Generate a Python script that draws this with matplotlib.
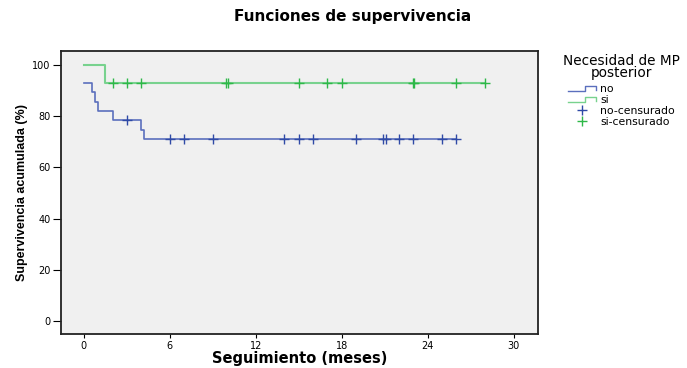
import numpy as np
import matplotlib.pyplot as plt
from matplotlib.lines import Line2D
from matplotlib.legend_handler import HandlerLine2D

plt.rcParams['font.family'] = ['DejaVu Sans']

# Kaplan-Meier step curves (months, % survival)
no_times = [0, 0.55, 0.8, 1.0, 2.05, 4.0, 4.2, 26.0]
no_surv = [92.9, 89.3, 85.7, 82.1, 78.6, 74.8, 71.1, 71.1]
no_cens_t = [3, 6, 7, 9, 14, 15, 16, 19, 20.9, 21.1, 22, 23, 25, 26]
no_cens_s = [78.6, 71.1, 71.1, 71.1, 71.1, 71.1, 71.1, 71.1, 71.1, 71.1, 71.1, 71.1, 71.1, 71.1]

si_times = [0, 1.5, 28.0]
si_surv = [100.0, 92.9, 92.9]
si_cens_t = [2, 3, 4, 9.95, 10.05, 15, 17, 18, 22.95, 23.05, 26, 28]
si_cens_s = [92.9] * len(si_cens_t)

x_ticks = [0, 6, 12, 18, 24, 30]
y_ticks = [0, 20, 40, 60, 80, 100]

blue_line = '#5b6fbd'
blue_mark = '#2f4aa6'
green_line = '#78d28e'
green_mark = '#2eb848'


class StepHandler(HandlerLine2D):
    def create_artists(self, legend, orig_handle, xdescent, ydescent,
                       width, height, fontsize, trans):
        x0 = -xdescent
        xs = [x0, x0 + width * 0.62, x0 + width * 0.62, x0 + width, x0 + width]
        yb = -ydescent + height * 0.15
        yt = -ydescent + height * 0.8
        ys = [yb, yb, yt, yt, yb + (yt - yb) * 0.3]
        line = Line2D(xs, ys, color=orig_handle.get_color(), lw=1.0)
        line.set_transform(trans)
        return [line]


fig = plt.figure(figsize=(6.87, 3.68), dpi=100)
ax = fig.add_axes([0.0888, 0.0924, 0.6943, 0.769])
ax.set_facecolor('#f0f0f0')

l_no, = ax.step(no_times, no_surv, where='post', color=blue_line, lw=1.2)
l_si, = ax.step(si_times, si_surv, where='post', color=green_line, lw=1.5)
m_no, = ax.plot(no_cens_t, no_cens_s, ls='none', marker='+', ms=7, mew=1.0, color=blue_mark)
m_si, = ax.plot(si_cens_t, si_cens_s, ls='none', marker='+', ms=7, mew=1.0, color=green_mark)

ax.set_xlim(-1.6, 31.7)
ax.set_ylim(-5.1, 105.5)
ax.set_xticks(x_ticks)
ax.set_yticks(y_ticks)
ax.tick_params(labelsize=7, width=0.8, color='black')
ax.tick_params(axis='x', length=3, pad=2)
ax.tick_params(axis='y', length=6, pad=1.5)
for s in ax.spines.values():
    s.set_linewidth(1.3)
    s.set_color('#222222')

ax.set_xlabel('Seguimiento (meses)', fontsize=10.5, fontweight='bold', labelpad=0)
ax.set_ylabel('Supervivencia acumulada (%)', fontsize=9, fontweight='bold',
              labelpad=3, family='Liberation Sans')
fig.text(0.513, 0.954, 'Funciones de supervivencia', ha='center', va='center',
         fontsize=11, fontweight='bold')

leg = fig.legend([l_no, l_si, m_no, m_si],
                 ['no', 'si', 'no-censurado', 'si-censurado'],
                 title='Necesidad de MP\nposterior',
                 handler_map={l_no: StepHandler(), l_si: StepHandler()},
                 loc='upper left', bbox_to_anchor=(0.8195, 0.852),
                 frameon=False, fontsize=7.8, title_fontsize=9.8,
                 handlelength=2.6, handletextpad=0.4, labelspacing=0.08,
                 borderaxespad=0, borderpad=0)
leg.get_title().set_multialignment('center')
leg.get_title().set_linespacing(0.8)
leg._legend_box.sep = 3

fig.savefig('out.png', dpi=100)
